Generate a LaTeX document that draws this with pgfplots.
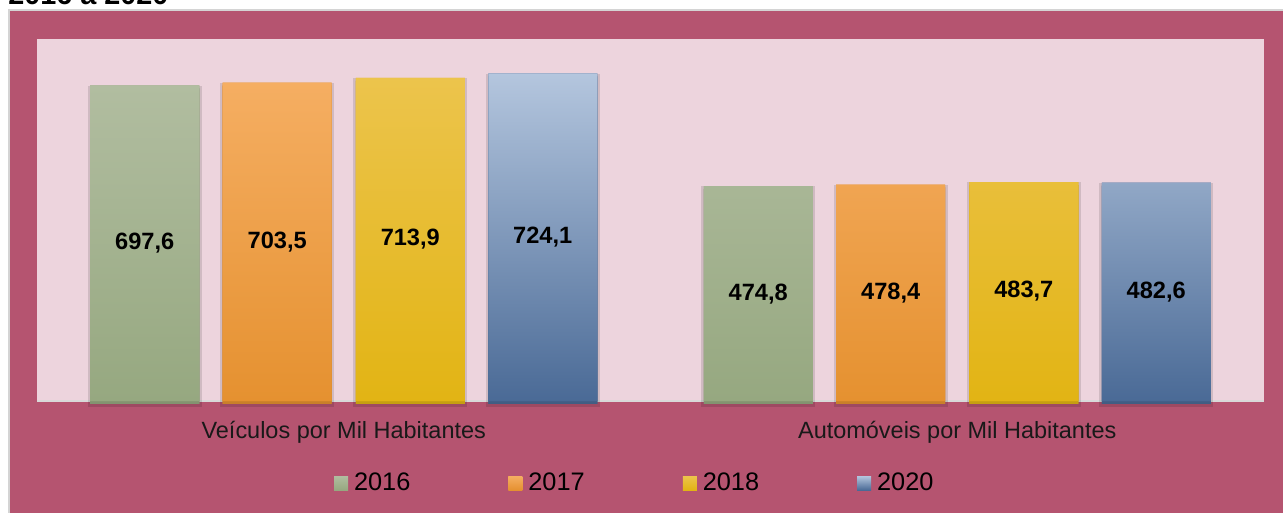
\documentclass[border=0pt]{standalone}
\usepackage{pgfplots}
\pgfplotsset{compat=1.18}
\usepackage{fontspec}
\setmainfont{Liberation Sans}
\definecolor{outerbg}{RGB}{181,84,112}
\definecolor{plotbg}{RGB}{237,212,221}
\definecolor{bordergray}{RGB}{212,212,212}
\definecolor{axisgray}{RGB}{217,217,217}
\definecolor{gA}{RGB}{177,189,160}
\definecolor{gB}{RGB}{150,168,128}
\definecolor{oA}{RGB}{245,174,98}
\definecolor{oB}{RGB}{229,145,48}
\definecolor{yA}{RGB}{236,196,76}
\definecolor{yB}{RGB}{226,180,20}
\definecolor{bA}{RGB}{180,198,222}
\definecolor{bB}{RGB}{74,106,150}
\makeatletter
\tikzset{nopre/.code={\let\tikz@preactions\pgfutil@empty}}
\makeatother
\tikzset{barshadow/.style={preaction={draw=black, draw opacity=0.12, line width=4pt, transform canvas={yshift=-2.2pt}}}}
\pgfplotsset{mybar/.style n args={3}{ybar, bar shift=#3, draw=none, fill=#2, top color=#1, bottom color=#2, barshadow,
  every node near coord/.append style={xshift=#3},
  legend image code/.code={\fill[nopre, top color=#1, bottom color=#2] (0pt,-5.25pt) rectangle (10.5pt,5.25pt);}}}
\begin{document}
\begin{tikzpicture}
\useasboundingbox (0,0) rectangle (962.25pt,-384pt);
\clip (0,0) rectangle (962.25pt,-384pt);
\fill[white] (0,0) rectangle (962.25pt,-384pt);
\filldraw[fill=outerbg, draw=bordergray, line width=1.5pt] (6.5pt,-7.5pt) rectangle (966pt,-388pt);
\node[anchor=base west, inner sep=0pt, font=\bfseries\fontsize{21.6}{24}\selectfont] at (6pt,-3pt) {2016 a 2020};
\begin{axis}[
  at={(27.75pt,-300.75pt)}, anchor=south west,
  scale only axis, width=920.25pt, height=271.5pt,
  xmin=-0.5, xmax=1.5, ymin=0, ymax=800,
  enlargelimits=false,
  axis x line*=bottom, axis y line=none,
  x axis line style={draw=axisgray, line width=1.5pt},
  xtick={0,1},
  xticklabels={Veículos por Mil Habitantes,Automóveis por Mil Habitantes},
  major tick length=0pt,
  xticklabel style={anchor=base, yshift=-27.75pt, font=\fontsize{17.6}{20}\selectfont, text=black!90},
  ytick=\empty,
  axis background/.style={fill=plotbg},
  clip=false,
  bar width=81.75pt,
  visualization depends on={y \as \rawy},
  nodes near coords={\pgfmathprintnumber[assume math mode=true, use comma, fixed, fixed zerofill, precision=1]{\pgfplotspointmeta}},
  every node near coord/.append style={anchor=center, font=\bfseries\fontsize{17.7}{20}\selectfont, text=black, yshift={-0.1696875pt*\rawy}},
  legend columns=4,
  legend style={at={(axis description cs:0.2421,-0.2265)}, anchor=west, draw=none, fill=none, inner sep=0pt, outer sep=0pt,
    font=\fontsize{19}{21}\selectfont,
    nodes={inner sep=0pt},
    /tikz/every odd column/.append style={column sep=4.5pt},
    /tikz/every even column/.append style={column sep=73.5pt}},
]
\addplot[mybar={gA}{gB}{-149.25pt}] coordinates {(0,697.6) (1,474.8)};
\addlegendentry{2016}
\addplot[mybar={oA}{oB}{-49.9pt}] coordinates {(0,703.5) (1,478.4)};
\addlegendentry{2017}
\addplot[mybar={yA}{yB}{49.9pt}] coordinates {(0,713.9) (1,483.7)};
\addlegendentry{2018}
\addplot[mybar={bA}{bB}{149.25pt}] coordinates {(0,724.1) (1,482.6)};
\addlegendentry{2020}
\end{axis}
\end{tikzpicture}
\end{document}
